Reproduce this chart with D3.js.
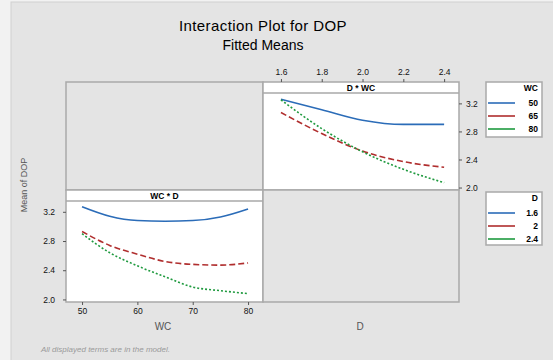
<!DOCTYPE html>
<html>
<head>
<meta charset="utf-8">
<script src="https://cdn.jsdelivr.net/npm/d3@7"></script>
<style>
  body { margin: 0; background: #f2f2f2; }
  svg { display: block; font-family: "Liberation Sans", Arial, sans-serif; }
</style>
</head>
<body>
<svg width="553" height="360"></svg>
<script>
// fitted means
const wcValues = [50, 55, 60, 65, 70, 75, 80];
const meanWC_D16 = [3.27, 3.14, 3.08, 3.07, 3.08, 3.13, 3.24];
const meanWC_D2 = [2.93, 2.74, 2.62, 2.52, 2.48, 2.47, 2.50];
const meanWC_D24 = [2.90, 2.64, 2.46, 2.31, 2.17, 2.12, 2.08];

const dValues = [1.6, 1.8, 2.0, 2.2, 2.4];
const meanD_WC50 = [3.26, 3.11, 2.96, 2.90, 2.90];
const meanD_WC65 = [3.07, 2.77, 2.52, 2.37, 2.29];
const meanD_WC80 = [3.25, 2.84, 2.51, 2.26, 2.07];

const dLevels = ["1.6", "2", "2.4"];
const wcLevels = ["50", "65", "80"];
const yTicks = [2.0, 2.4, 2.8, 3.2];
const wcTicks = [50, 60, 70, 80];
const dTicks = [1.6, 1.8, 2.0, 2.2, 2.4];

const colors = ["#2b6cb8", "#b02e2e", "#1f9a3f"];
const dashes = [null, "6,3", "2,2"];

const svg = d3.select("svg");

// outer frame
svg.append("rect")
    .attr("x", 11).attr("y", 2)
    .attr("width", 560).attr("height", 370)
    .attr("fill", "#e4e4e4")
    .attr("stroke", "#cfcfcf");

svg.append("text").attr("x", 263).attr("y", 31)
    .attr("text-anchor", "middle").attr("font-size", 15).attr("letter-spacing", 0.4)
    .text("Interaction Plot for DOP");
svg.append("text").attr("x", 263).attr("y", 50)
    .attr("text-anchor", "middle").attr("font-size", 14)
    .text("Fitted Means");

// panel grid
const x0 = 66, x1 = 263, x2 = 459;
const y0 = 82, y1 = 190, y2 = 302;
const stripH = 11;
const border = "#a9a9a9";

function panel(x, y, w, h, label) {
    svg.append("rect").attr("x", x).attr("y", y).attr("width", w).attr("height", h)
        .attr("fill", label ? "#fff" : "#e4e4e4")
        .attr("stroke", border).attr("stroke-width", 1.5);
    if (label) {
        svg.append("line")
            .attr("x1", x).attr("x2", x + w)
            .attr("y1", y + stripH).attr("y2", y + stripH)
            .attr("stroke", border).attr("stroke-width", 1.5);
        svg.append("text").attr("x", x + w / 2).attr("y", y + 8.5)
            .attr("text-anchor", "middle").attr("font-size", 8.5).attr("font-weight", "bold")
            .text(label);
    }
}
panel(x0, y0, x1 - x0, y1 - y0, null);
panel(x1, y0, x2 - x1, y1 - y0, "D * WC");
panel(x0, y1, x1 - x0, y2 - y1, "WC * D");
panel(x1, y1, x2 - x1, y2 - y1, null);

// scales
const xWC = d3.scaleLinear().domain([47.1, 82.7]).range([x0, x1]);
const xD = d3.scaleLinear().domain([1.512, 2.473]).range([x1, x2]);
const yTop = d3.scaleLinear().domain([1.965, 3.348]).range([y1, y0 + stripH]);
const yBot = d3.scaleLinear().domain([1.965, 3.348]).range([y2, y1 + stripH]);

function styleAxis(g) {
    g.select(".domain").remove();
    g.selectAll(".tick line").attr("stroke", "#555");
    g.selectAll(".tick text").attr("font-size", 8.5).attr("fill", "#111")
        .attr("font-family", "Liberation Sans, Arial, sans-serif");
}

svg.append("g").attr("transform", `translate(0,${y0})`)
    .call(d3.axisTop(xD).tickValues(dTicks).tickFormat(d3.format(".1f")).tickSize(3).tickPadding(4))
    .call(styleAxis);
svg.append("g").attr("transform", `translate(${x2},0)`)
    .call(d3.axisRight(yTop).tickValues(yTicks).tickFormat(d3.format(".1f")).tickSize(3).tickPadding(4))
    .call(styleAxis);
svg.append("g").attr("transform", `translate(0,${y2})`)
    .call(d3.axisBottom(xWC).tickValues(wcTicks).tickSize(3).tickPadding(3))
    .call(styleAxis);
svg.append("g").attr("transform", `translate(${x0},0)`)
    .call(d3.axisLeft(yBot).tickValues(yTicks).tickFormat(d3.format(".1f")).tickSize(3).tickPadding(8))
    .call(styleAxis);

// lines
const lineWC = d3.line().x((d, i) => xWC(wcValues[i])).y(d => yBot(d)).curve(d3.curveMonotoneX);
const lineD = d3.line().x((d, i) => xD(dValues[i])).y(d => yTop(d)).curve(d3.curveMonotoneX);

[meanWC_D16, meanWC_D2, meanWC_D24].forEach((s, i) => {
    svg.append("path").attr("d", lineWC(s)).attr("fill", "none")
        .attr("stroke", colors[i]).attr("stroke-width", 1.6)
        .attr("stroke-dasharray", dashes[i]);
});
[meanD_WC50, meanD_WC65, meanD_WC80].forEach((s, i) => {
    svg.append("path").attr("d", lineD(s)).attr("fill", "none")
        .attr("stroke", colors[i]).attr("stroke-width", 1.6)
        .attr("stroke-dasharray", dashes[i]);
});

// axis titles
svg.append("text").attr("x", 163).attr("y", 330).attr("text-anchor", "middle")
    .attr("font-size", 10).attr("fill", "#555").text("WC");
svg.append("text").attr("x", 360).attr("y", 330).attr("text-anchor", "middle")
    .attr("font-size", 10).attr("fill", "#555").text("D");
svg.append("text").attr("transform", "translate(27,185) rotate(-90)").attr("text-anchor", "middle")
    .attr("font-size", 9).attr("fill", "#555").text("Mean of DOP");
svg.append("text").attr("x", 41).attr("y", 352)
    .attr("font-size", 8).attr("font-style", "italic").attr("fill", "#9a9a9a")
    .text("All displayed terms are in the model.");

// legends
function legend(top, h, title, labels, rows) {
    svg.append("rect").attr("x", 486).attr("y", top).attr("width", 56).attr("height", h)
        .attr("fill", "#fff").attr("stroke", border).attr("stroke-width", 1.5);
    svg.append("text").attr("x", 538).attr("y", top + 9).attr("text-anchor", "end")
        .attr("font-size", 8.5).attr("font-weight", "bold").text(title);
    labels.forEach((l, i) => {
        svg.append("line").attr("x1", 488).attr("x2", 515)
            .attr("y1", rows[i]).attr("y2", rows[i])
            .attr("stroke", colors[i]).attr("stroke-width", 1.6);
        svg.append("text").attr("x", 538).attr("y", rows[i] + 3).attr("text-anchor", "end")
            .attr("font-size", 8.5).attr("font-weight", "bold").text(l);
    });
}
legend(82, 55, "WC", wcLevels, [103, 116, 129]);
legend(192, 53, "D", dLevels, [213, 226, 239]);
</script>
</body>
</html>
